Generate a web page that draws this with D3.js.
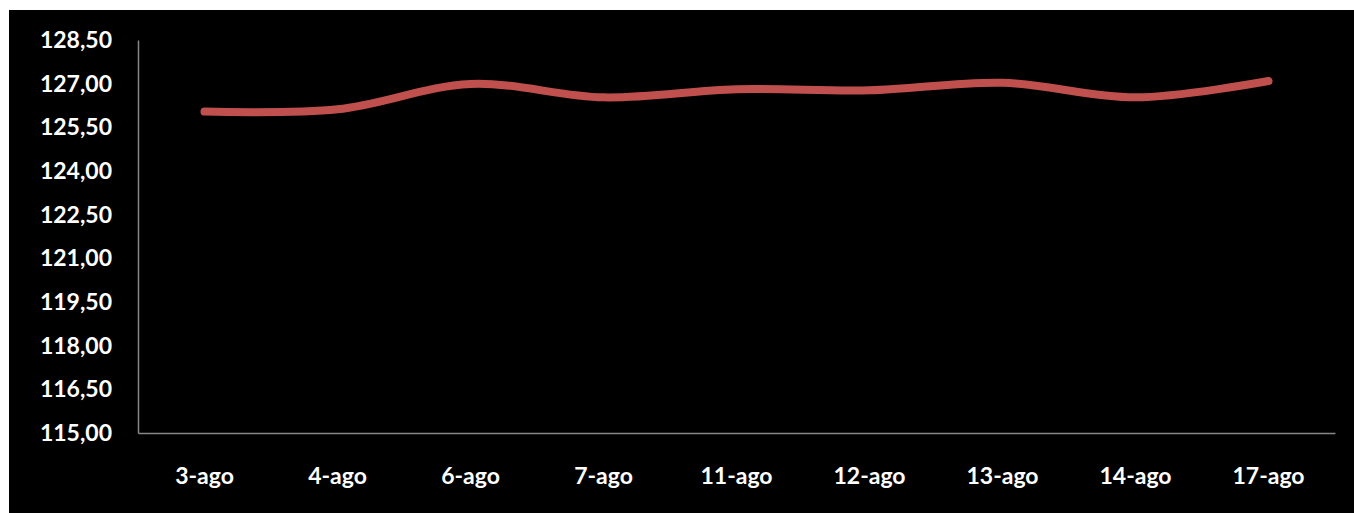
<!DOCTYPE html>
<html>
<head>
<meta charset="utf-8">
<script src="https://cdn.jsdelivr.net/npm/d3@7"></script>
<style>
  html, body { margin: 0; padding: 0; background: #ffffff; }
  svg { display: block; }
</style>
</head>
<body>
<svg id="chart" width="1354" height="513"></svg>
<script>
// Daily values
const categories = ["3-ago", "4-ago", "6-ago", "7-ago", "11-ago", "12-ago", "13-ago", "14-ago", "17-ago"];
const values = [126.04, 126.12, 126.99, 126.53, 126.81, 126.77, 127.03, 126.53, 127.09];
const yTicks = [115.00, 116.50, 118.00, 119.50, 121.00, 122.50, 124.00, 125.50, 127.00, 128.50];

const svg = d3.select("#chart");
const W = 1354, H = 513;
const margin = { left: 138, right: 19, top: 40, bottom: 80 };

// dark panel
svg.append("rect")
  .attr("x", 9).attr("y", 10)
  .attr("width", W - 9).attr("height", H - 10)
  .attr("fill", "#000000");

const x = d3.scaleBand()
  .domain(categories)
  .range([margin.left, W - margin.right]);

const y = d3.scaleLinear()
  .domain([115, 128.5])
  .range([H - margin.bottom, margin.top]);

const fmt = v => d3.format(".2f")(v).replace(".", ",");
const font = "Lato, 'Open Sans', sans-serif";

// y axis
const yAxis = svg.append("g")
  .attr("transform", `translate(${margin.left},0)`)
  .call(d3.axisLeft(y).tickValues(yTicks).tickFormat(fmt).tickSize(0).tickPadding(26));
yAxis.select(".domain").attr("stroke", "#868686").attr("stroke-width", 1.5);
yAxis.selectAll("text")
  .attr("fill", "#ffffff")
  .style("font-family", font)
  .style("font-weight", "bold")
  .style("font-size", "23px");

// x axis
const xAxis = svg.append("g")
  .attr("transform", `translate(0,${H - margin.bottom})`)
  .call(d3.axisBottom(x).tickSize(0).tickPadding(35));
xAxis.select(".domain").attr("stroke", "#868686").attr("stroke-width", 1.5);
xAxis.selectAll("text")
  .attr("fill", "#ffffff")
  .style("font-family", font)
  .style("font-weight", "bold")
  .style("font-size", "23px");

// smoothed series line
const line = d3.line()
  .x((d, i) => x(categories[i]) + x.bandwidth() / 2)
  .y(d => y(d))
  .curve(d3.curveCatmullRom.alpha(0.5));

svg.append("path")
  .datum(values)
  .attr("d", line)
  .attr("fill", "none")
  .attr("stroke", "#c0504d")
  .attr("stroke-width", 8)
  .attr("stroke-linecap", "round")
  .attr("stroke-linejoin", "round");
</script>
</body>
</html>
